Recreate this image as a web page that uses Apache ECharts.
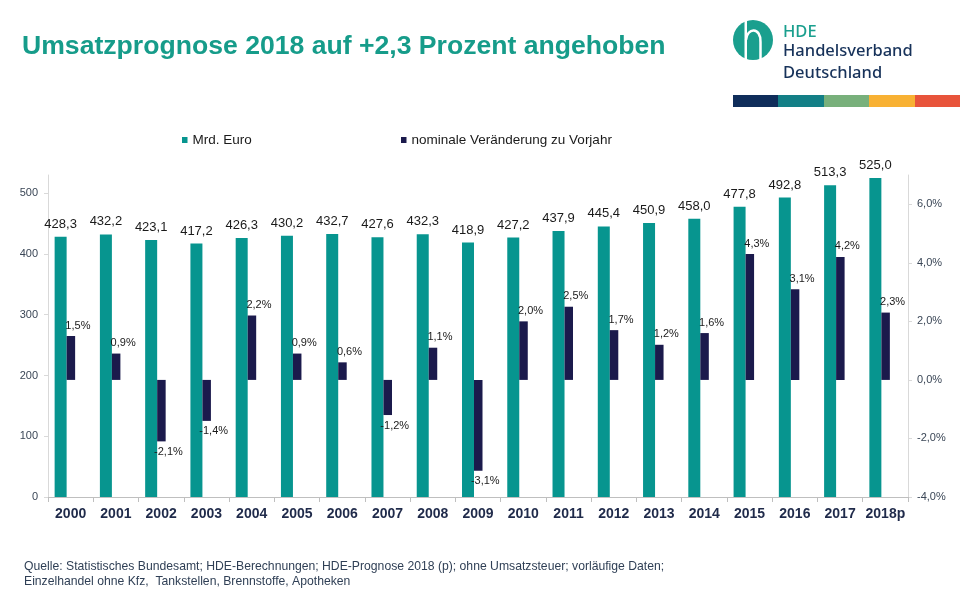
<!DOCTYPE html>
<html>
<head>
<meta charset="utf-8">
<script src="https://cdn.jsdelivr.net/npm/echarts@6/dist/echarts.min.js"></script>
<style>
html,body{margin:0;padding:0;background:#fff;}
#chart{width:960px;height:600px;}
</style>
</head>
<body>
<div id="chart"></div>
<script>
// ---- data ----
const categories = ['2000','2001','2002','2003','2004','2005','2006','2007','2008','2009','2010','2011','2012','2013','2014','2015','2016','2017','2018p'];
const umsatz = [428.3,432.2,423.1,417.2,426.3,430.2,432.7,427.6,432.3,418.9,427.2,437.9,445.4,450.9,458.0,477.8,492.8,513.3,525.0];
const veraenderung = [1.5,0.9,-2.1,-1.4,2.2,0.9,0.6,-1.2,1.1,-3.1,2.0,2.5,1.7,1.2,1.6,4.3,3.1,4.2,2.3];
const seriesNames = ['Mrd. Euro','nominale Veränderung zu Vorjahr'];
const titleText = 'Umsatzprognose 2018 auf +2,3 Prozent angehoben';
const footerLines = ['Quelle: Statistisches Bundesamt; HDE-Berechnungen; HDE-Prognose 2018 (p); ohne Umsatzsteuer; vorläufige Daten;','Einzelhandel ohne Kfz,  Tankstellen, Brennstoffe, Apotheken'];

const TEAL = '#07958f';
const NAVY = '#1b1a4c';
const de = (v, d) => v.toFixed(d).replace('.', ',');

const chart = echarts.init(document.getElementById('chart'), null, {renderer:'canvas'});

const legendText = {fontSize: 13.5, color: '#1a1a1a', fontFamily: 'Liberation Sans, Arial'};

const option = {
  backgroundColor: '#ffffff',
  animation: false,
  textStyle: {fontFamily: 'Liberation Sans, Arial, sans-serif'},
  grid: {left: 48, right: 52, top: 175, bottom: 103, containLabel: false},
  legend: [
    {data: [seriesNames[0]], left: 182, top: 133, padding: 0, icon: 'rect', itemWidth: 5.5, itemHeight: 6, textStyle: legendText},
    {data: [seriesNames[1]], left: 401, top: 133, padding: 0, icon: 'rect', itemWidth: 5.5, itemHeight: 6, textStyle: legendText}
  ],
  xAxis: {
    type: 'category', data: categories,
    axisLine: {show: true, lineStyle: {color: '#bfbfbf', width: 1}},
    axisTick: {show: true, length: 5, lineStyle: {color: '#bfbfbf'}},
    axisLabel: {fontSize: 14, fontWeight: 'bold', color: '#1f2a4a', margin: 10, fontFamily: 'Liberation Sans, Arial', interval: 0}
  },
  yAxis: [
    {type: 'value', min: 0, max: 530, interval: 100, position: 'left',
     splitLine: {show: false},
     axisLine: {show: true, lineStyle: {color: '#d9d9d9'}},
     axisTick: {show: true, length: 4, lineStyle: {color: '#d9d9d9'}},
     axisLabel: {fontSize: 11, color: '#3a4656', margin: 10, showMaxLabel: false, fontFamily: 'Liberation Sans, Arial'}},
    {type: 'value', min: -4, max: 7, interval: 2, position: 'right',
     splitLine: {show: false},
     axisLine: {show: true, lineStyle: {color: '#d9d9d9'}},
     axisTick: {show: true, length: 4, lineStyle: {color: '#d9d9d9'}},
     axisLabel: {fontSize: 11, color: '#3a4656', margin: 9, showMaxLabel: false, fontFamily: 'Liberation Sans, Arial',
       formatter: v => de(v, 1) + '%'}}
  ],
  series: [
    {name: seriesNames[0], type: 'bar', yAxisIndex: 0, data: umsatz, barWidth: 12, barGap: '0%',
     itemStyle: {color: TEAL},
     label: {show: true, position: 'top', distance: 6, fontSize: 13, color: '#1a1a1a', fontFamily: 'Liberation Sans, Arial',
       formatter: p => de(p.value, 1)}},
    {name: seriesNames[1], type: 'bar', yAxisIndex: 1, barWidth: 8.5, barGap: '0%',
     data: veraenderung.map(v => ({value: v, label: {position: v < 0 ? 'bottom' : 'top'}})),
     itemStyle: {color: NAVY},
     label: {show: true, distance: 5, offset: [7, 0], fontSize: 11, color: '#1a1a1a', fontFamily: 'Liberation Sans, Arial',
       formatter: p => de(p.value, 1) + '%'}},
    {name: 'spacer', type: 'bar', yAxisIndex: 0, barWidth: 11.5, barGap: '0%',
     data: categories.map(() => null), itemStyle: {color: 'rgba(0,0,0,0)'}, silent: true}
  ],
  graphic: [
    {type: 'text', x: 22, y: 33, style: {text: titleText, font: 'bold 26.6px "Liberation Sans", Arial', fill: '#169c8a'}},
    // logo
    {type: 'circle', shape: {cx: 753, cy: 40, r: 20}, style: {fill: '#1a9f8e'}},
    {type: 'rect', shape: {x: 744.5, y: 18, width: 2.5, height: 44}, style: {fill: '#ffffff'}},
    {type: 'bezierCurve', shape: {x1: 746, y1: 40, cpx1: 747, cpy1: 27, cpx2: 761, cpy2: 27, x2: 760.5, y2: 42},
     style: {fill: null, stroke: '#ffffff', lineWidth: 2.5}},
    {type: 'line', shape: {x1: 760.5, y1: 42, x2: 760.5, y2: 62}, style: {stroke: '#ffffff', lineWidth: 2.5}},
    {type: 'text', x: 783, y: 24, style: {text: 'HDE', font: '500 16.5px "Noto Sans", "Open Sans", Arial', fill: '#1a9f8e'}},
    {type: 'text', x: 783, y: 42.5, style: {text: 'Handelsverband', font: '500 16.5px "Noto Sans", "Open Sans", Arial', fill: '#17325a'}},
    {type: 'text', x: 783, y: 65, style: {text: 'Deutschland', font: '500 16.5px "Noto Sans", "Open Sans", Arial', fill: '#17325a'}},
    {type: 'rect', shape: {x: 733, y: 95, width: 45, height: 12}, style: {fill: '#0f2d5a'}},
    {type: 'rect', shape: {x: 778, y: 95, width: 46, height: 12}, style: {fill: '#137f86'}},
    {type: 'rect', shape: {x: 824, y: 95, width: 45, height: 12}, style: {fill: '#78b07b'}},
    {type: 'rect', shape: {x: 869, y: 95, width: 46, height: 12}, style: {fill: '#f8b133'}},
    {type: 'rect', shape: {x: 915, y: 95, width: 45, height: 12}, style: {fill: '#e8543b'}},
    // footer
    {type: 'text', x: 24, y: 561, style: {text: footerLines[0], font: '12.2px "Liberation Sans", Arial', fill: '#2f3f55'}},
    {type: 'text', x: 24, y: 576, style: {text: footerLines[1], font: '12.2px "Liberation Sans", Arial', fill: '#2f3f55'}}
  ]
};
chart.setOption(option);
</script>
</body>
</html>
